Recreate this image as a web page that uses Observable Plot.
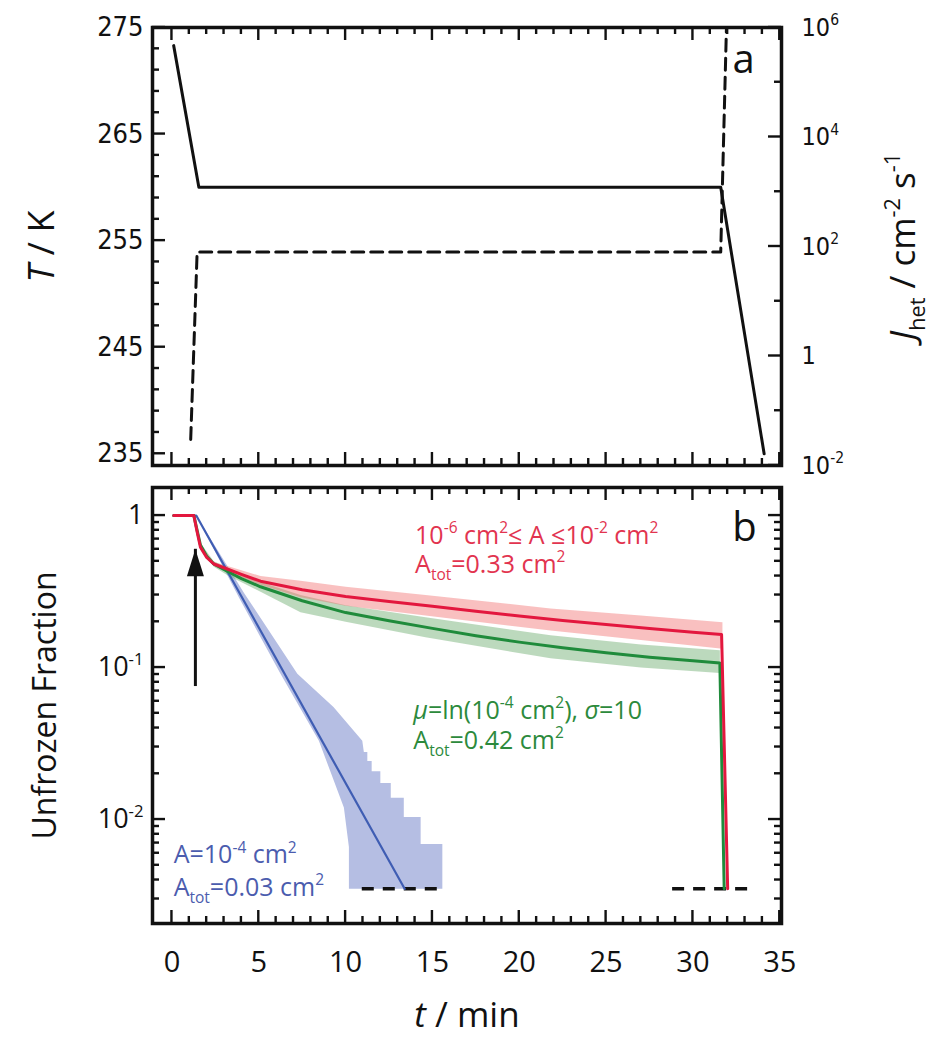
<!DOCTYPE html>
<html><head><meta charset="utf-8">
<script src="https://cdn.jsdelivr.net/npm/d3@7"></script>
<script src="https://cdn.jsdelivr.net/npm/@observablehq/plot@0.6"></script>
<style>
body{margin:0;background:#fff;}
#fig{position:relative;width:947px;height:1050px;background:#fff;}
#fig svg{position:absolute;left:0;}
</style></head><body><div id="fig"></div>
<script>
// ---------------- Panel a data ----------------
const tempTime = [0.1, 1.55, 31.6, 34.1];            // min
const tempK    = [273.3, 260.0, 260.0, 235.0];       // K
const jhetTime = [1.08, 1.45, 31.6, 31.93];          // min
const jhetRate = [0.03, 79, 79, 1e6];                // cm^-2 s^-1
const tempMajor = [235, 245, 255, 265, 275];
const tempMajorLabels = ["235", "245", "255", "265", "275"];
const jMajor = [1e-2, 1, 1e2, 1e4, 1e6];
const jMajorLabels = ["10^{-2}", "1", "10^{2}", "10^{4}", "10^{6}"];
const jMinor = [1e-1, 1e1, 1e3, 1e5];

// ---------------- Panel b data ----------------
const redTime = [0.1, 1.26, 1.45, 1.64, 2.0, 2.41, 3.18, 4, 5.1, 7.5, 10, 12.5, 15, 17.5, 20, 22.5, 25, 27.5, 30, 31.65, 32.0];
const redFrac = [1, 1, 0.78, 0.62, 0.53, 0.48, 0.445, 0.41, 0.37, 0.325, 0.293, 0.272, 0.253, 0.235, 0.218, 0.204, 0.192, 0.181, 0.171, 0.165, 0.0035];
const greenTime = [0.1, 1.26, 1.45, 1.64, 2.0, 2.41, 3.18, 4, 5.1, 7.5, 10, 12.5, 15, 17.5, 20, 22.5, 25, 27.5, 30, 31.55, 31.8];
const greenFrac = [1, 1, 0.8, 0.64, 0.54, 0.48, 0.43, 0.385, 0.34, 0.275, 0.23, 0.203, 0.181, 0.162, 0.147, 0.135, 0.125, 0.117, 0.111, 0.107, 0.0035];
const blueTime = [0.1, 1.4, 13.4];
const blueFrac = [1, 1, 0.0035];

const redBandTime = [1.26, 1.64, 2.41, 3.2, 5.1, 7.4, 10, 14.6, 21.8, 27, 31.7];
const redBandHigh = [1, 0.64, 0.495, 0.465, 0.40, 0.373, 0.34, 0.30, 0.245, 0.22, 0.199];
const redBandLow  = [1, 0.60, 0.465, 0.425, 0.35, 0.29, 0.255, 0.22, 0.175, 0.152, 0.133];
const greenBandTime = [1.26, 1.64, 2.41, 3.2, 5.1, 7.4, 10, 14.6, 21.8, 27, 31.55];
const greenBandHigh = [1, 0.66, 0.50, 0.455, 0.365, 0.30, 0.257, 0.214, 0.163, 0.142, 0.13];
const greenBandLow  = [1, 0.62, 0.46, 0.405, 0.315, 0.231, 0.2, 0.158, 0.115, 0.1, 0.092];
const blueBandLeftTime = [1.4, 3.85, 6.25, 8.46, 9.9, 10.19, 10.19];
const blueBandLeftFrac = [1, 0.29, 0.091, 0.033, 0.012, 0.0066, 0.0035];
const blueBandRightTime = [15.57, 15.57, 14.32, 14.32, 13.35, 13.35, 12.6, 12.6, 12.0, 12.0, 11.5, 11.5, 11.25, 11.25, 11.05, 10.96, 9.3, 7.22, 4.15, 1.4];
const blueBandRightFrac = [0.0035, 0.0069, 0.0069, 0.0104, 0.0104, 0.0139, 0.0139, 0.0174, 0.0174, 0.0208, 0.0208, 0.0243, 0.0243, 0.0278, 0.0278, 0.033, 0.055, 0.091, 0.31, 1];

const floorFrac = 0.0035;
const floorSegStart = [10.96, 28.83];
const floorSegEnd = [15.57, 33.44];

const arrowTime = 1.35, arrowFrom = 0.075, arrowTo = 0.6;

const fracMajor = [1, 0.1, 0.01];
const fracMajorLabels = ["1", "10^{-1}", "10^{-2}"];
const timeMajor = [0, 5, 10, 15, 20, 25, 30, 35];
const timeMajorLabels = ["0", "5", "10", "15", "20", "25", "30", "35"];

const noteText = ["10^{-6} cm^{2}≤ A ≤10^{-2} cm^{2}", "A_{tot}=0.33 cm^{2}",
                  "*μ*=ln(10^{-4} cm^{2}), *σ*=10", "A_{tot}=0.42 cm^{2}",
                  "A=10^{-4} cm^{2}", "A_{tot}=0.03 cm^{2}"];
const noteTime = [14.0, 14.0, 13.9, 13.9, 0.1, 0.1];
const noteFrac = [0.654, 0.42, 0.0462, 0.0293, 0.00514, 0.00316];
const noteSeries = ["red", "red", "green", "green", "blue", "blue"];

(function draw() {
  const ink = "#111";
  const col = {red: "#e3173e", green: "#1f8b3b", blue: "#3f5db3"};
  const txtCol = {red: "#e2344f", green: "#2c8a3c", blue: "#4b5cae"};
  const narrow = "'Liberation Sans Narrow', 'DejaVu Sans Condensed', 'Arial Narrow', sans-serif";
  const sans = "'Open Sans', 'Noto Sans', sans-serif";
  const W = 947, ML = 152, MR = 166;
  const FW = W - ML - MR;
  const xDomain = [-1.12, 35.1];
  const tDomain = [233.9, 275];
  const jDomain = [1e-2, 1e6];
  const fDomain = [2.07e-3, 1.53];
  const PA = {h: 480, mt: 27, mb: 15};
  const PB = {h: 570, mt: 7, mb: 127};
  const FHa = PA.h - PA.mt - PA.mb, FHb = PB.h - PB.mt - PB.mb;
  const MAJ = 13, MIN = 7;

  const timeMinor = d3.range(1, 35).filter(v => v % 5 !== 0);
  const tempMinor = d3.range(235, 276, 2).filter(v => (v - 235) % 10 !== 0);
  const fracMinor = [];
  for (const dec of [1e-3, 1e-2, 1e-1]) for (let k = 2; k <= 9; k++) { const v = k * dec; if (v > fDomain[0]) fracMinor.push(+v.toPrecision(3)); }

  const zip = (a, b, ka, kb) => a.map((v, i) => ({[ka]: v, [kb]: b[i]}));

  // pixel offsets converted to data offsets on each scale
  const xOff = px => (xDomain[1] - xDomain[0]) * px / FW;
  const yUp = (log, dom, FH) => (v, px) => log ? v * Math.pow(dom[1] / dom[0], px / FH) : v + (dom[1] - dom[0]) * px / FH;
  const yDn = (log, dom, FH) => (v, px) => log ? v / Math.pow(dom[1] / dom[0], px / FH) : v - (dom[1] - dom[0]) * px / FH;

  // inward ticks as thin filled rectangles (x ticks on bottom+top, y ticks on left/right)
  function xTicks(log, dom, FH) {
    const up = yUp(log, dom, FH), dn = yDn(log, dom, FH), hw = xOff(1.2);
    const rows = [];
    for (const [vals, px] of [[timeMajor, MAJ], [timeMinor, MIN]]) {
      for (const v of vals) {
        rows.push({x1: v - hw, x2: v + hw, y1: dom[0], y2: up(dom[0], px)});
        rows.push({x1: v - hw, x2: v + hw, y1: dom[1], y2: dn(dom[1], px)});
      }
    }
    return Plot.rect(rows, {x1: "x1", x2: "x2", y1: "y1", y2: "y2", fill: ink});
  }
  function yTicks(major, minor, left, right, log, dom, FH) {
    const up = yUp(log, dom, FH), dn = yDn(log, dom, FH);
    const rows = [];
    for (const [vals, px] of [[major, MAJ], [minor, MIN]]) {
      for (const v of vals) {
        if (left) rows.push({x1: xDomain[0], x2: xDomain[0] + xOff(px), y1: dn(v, 1.2), y2: up(v, 1.2)});
        if (right) rows.push({x1: xDomain[1] - xOff(px), x2: xDomain[1], y1: dn(v, 1.2), y2: up(v, 1.2)});
      }
    }
    return Plot.rect(rows, {x1: "x1", x2: "x2", y1: "y1", y2: "y2", fill: ink});
  }

  const base = (P) => ({width: W, height: P.h, marginLeft: ML, marginRight: MR, marginTop: P.mt, marginBottom: P.mb,
    style: {background: "transparent", overflow: "visible"}});

  // ---------------- panel a: temperature (left axis) ----------------
  const plotA = Plot.plot({
    ...base(PA),
    x: {domain: xDomain, axis: null},
    y: {domain: tDomain, axis: null},
    marks: [
      Plot.line(zip(tempTime, tempK, "t", "T"), {x: "t", y: "T", stroke: ink, strokeWidth: 3}),
      xTicks(false, tDomain, FHa),
      yTicks(tempMajor, tempMinor, true, false, false, tDomain, FHa),
      Plot.text(tempMajor, {y: d => d, text: (d, i) => tempMajorLabels[i], frameAnchor: "left", dx: -9, textAnchor: "end", fontSize: 27, fontFamily: narrow, fill: ink}),
      Plot.text(["*T* / K"], {frameAnchor: "left", dx: -110, rotate: -90, textAnchor: "middle", fontSize: 36, fontFamily: sans, fill: ink}),
      Plot.text(["a"], {frameAnchor: "top-right", dx: -38, dy: 45, textAnchor: "middle", lineAnchor: "bottom", fontSize: 40, fontFamily: sans, fill: ink}),
      Plot.frame({stroke: ink, strokeWidth: 3.5})
    ]
  });

  // ---------------- panel a: J_het (right axis) ----------------
  const plotJ = Plot.plot({
    ...base(PA),
    x: {domain: xDomain, axis: null},
    y: {type: "log", domain: jDomain, axis: null},
    marks: [
      Plot.line(zip(jhetTime, jhetRate, "t", "J"), {x: "t", y: "J", stroke: ink, strokeWidth: 3, strokeDasharray: "12,7"}),
      yTicks(jMajor, jMinor, false, true, true, jDomain, FHa),
      Plot.text(jMajor, {y: d => d, text: (d, i) => jMajorLabels[i], frameAnchor: "right", dx: 20, textAnchor: "start", fontSize: 25, fontFamily: narrow, fill: ink}),
      Plot.text(["*J*_{het} / cm^{-2} s^{-1}"], {frameAnchor: "right", dx: 122, rotate: -90, textAnchor: "middle", fontSize: 35, fontFamily: sans, fill: ink})
    ]
  });

  // ---------------- panel b ----------------
  const poly = (t1, v1, t2, v2) => [...zip(t1, v1, "t", "v"), ...zip(t2, v2, "t", "v")];
  const redPoly = poly(redBandTime, redBandHigh, [...redBandTime].reverse(), [...redBandLow].reverse());
  const greenPoly = poly(greenBandTime, greenBandHigh, [...greenBandTime].reverse(), [...greenBandLow].reverse());
  const bluePoly = poly(blueBandLeftTime, blueBandLeftFrac, blueBandRightTime, blueBandRightFrac);
  const notes = noteText.map((s, i) => ({s, t: noteTime[i], v: noteFrac[i], c: txtCol[noteSeries[i]]}));
  const floors = floorSegStart.map((a, i) => ({a, b: floorSegEnd[i]}));

  const plotB = Plot.plot({
    ...base(PB),
    x: {domain: xDomain, axis: null},
    y: {type: "log", domain: fDomain, axis: null},
    marks: [
      Plot.line(bluePoly, {x: "t", y: "v", fill: "#b5bee3", stroke: "none"}),
      Plot.line(greenPoly, {x: "t", y: "v", fill: "#4f9c52", fillOpacity: 0.38, stroke: "none"}),
      Plot.line(redPoly, {x: "t", y: "v", fill: "#f06a6a", fillOpacity: 0.42, stroke: "none"}),
      Plot.ruleY(floors, {y: () => floorFrac, x1: "a", x2: "b", stroke: ink, strokeWidth: 3.5, strokeDasharray: "12,9"}),
      Plot.line(zip(blueTime, blueFrac, "t", "v"), {x: "t", y: "v", stroke: col.blue, strokeWidth: 2.2}),
      Plot.line(zip(greenTime, greenFrac, "t", "v"), {x: "t", y: "v", stroke: col.green, strokeWidth: 3}),
      Plot.line(zip(redTime, redFrac, "t", "v"), {x: "t", y: "v", stroke: col.red, strokeWidth: 3}),
      Plot.ruleX([arrowTime], {x: d => d, y1: arrowFrom, y2: arrowTo, stroke: ink, strokeWidth: 3}),
      Plot.vector([arrowTime], {x: d => d, y: arrowTo, length: 27, anchor: "end", fill: ink, stroke: "none",
        shape: {draw(ctx, l) { ctx.moveTo(0, -l); ctx.lineTo(-8.5, 0); ctx.lineTo(8.5, 0); ctx.closePath(); }}}),
      Plot.text(notes, {x: "t", y: "v", text: "s", fill: "c", textAnchor: "start", lineAnchor: "bottom", fontSize: 25, fontFamily: sans, letterSpacing: "0.8px"}),
      xTicks(true, fDomain, FHb),
      yTicks(fracMajor, fracMinor, true, true, true, fDomain, FHb),
      Plot.text(fracMajor, {y: d => d, text: (d, i) => fracMajorLabels[i], frameAnchor: "left", dx: -9, textAnchor: "end", fontSize: 27, fontFamily: sans, fill: ink}),
      Plot.text(timeMajor, {x: d => d, text: (d, i) => timeMajorLabels[i], frameAnchor: "bottom", dy: 39, textAnchor: "middle", lineAnchor: "middle", fontSize: 29, fontFamily: sans, fill: ink}),
      Plot.text(["Unfrozen Fraction"], {frameAnchor: "left", dx: -107, rotate: -90, textAnchor: "middle", fontSize: 32, fontFamily: sans, fill: ink}),
      Plot.text(["*t* / min"], {frameAnchor: "bottom", dy: 92, textAnchor: "middle", lineAnchor: "middle", fontSize: 35, fontFamily: sans, fill: ink}),
      Plot.text(["b"], {frameAnchor: "top-right", dx: -37, dy: 53, textAnchor: "middle", lineAnchor: "bottom", fontSize: 40, fontFamily: sans, fill: ink}),
      Plot.frame({stroke: ink, strokeWidth: 3.5})
    ]
  });

  const fig = document.getElementById("fig");
  for (const [svg, top] of [[plotA, 0], [plotJ, 0], [plotB, PA.h]]) {
    svg.style.top = top + "px";
    fig.append(svg);
  }

  // rich text: ^{sup}, _{sub}, *italic*
  const NS = "http://www.w3.org/2000/svg";
  function richify(svg) {
    svg.querySelectorAll("text").forEach(el => {
      const src = el.textContent;
      if (!/\^\{|_\{|\*/.test(src)) return;
      const fs = parseFloat(getComputedStyle(el).fontSize) || 20;
      const re = /\^\{([^}]*)\}|_\{([^}]*)\}|\*([^*]*)\*|([^\^_*]+)/g;
      const toks = [];
      let m;
      while ((m = re.exec(src))) {
        if (m[1] != null) toks.push({s: m[1], k: "sup"});
        else if (m[2] != null) toks.push({s: m[2], k: "sub"});
        else if (m[3] != null) toks.push({s: m[3], k: "it"});
        else toks.push({s: m[4], k: "n"});
      }
      while (el.firstChild) el.removeChild(el.firstChild);
      let cur = 0;
      for (const tk of toks) {
        const ts = document.createElementNS(NS, "tspan");
        const target = tk.k === "sup" ? -0.42 * fs : tk.k === "sub" ? 0.28 * fs : 0;
        if (target !== cur) ts.setAttribute("dy", (target - cur).toFixed(2));
        cur = target;
        if (tk.k === "sup" || tk.k === "sub") ts.setAttribute("font-size", (0.62 * fs).toFixed(1));
        if (tk.k === "it") ts.setAttribute("font-style", "italic");
        ts.textContent = tk.s;
        el.appendChild(ts);
      }
    });
  }
  [plotA, plotJ, plotB].forEach(richify);
})();
</script></body></html>
